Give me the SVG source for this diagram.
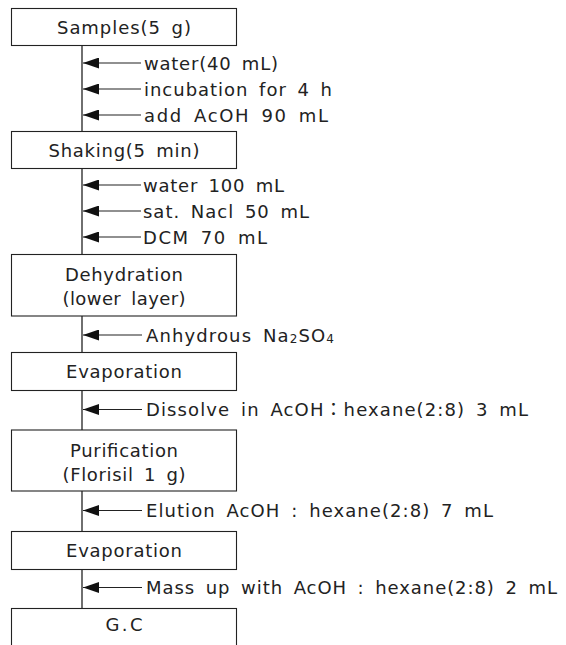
<svg xmlns="http://www.w3.org/2000/svg" width="566" height="645" viewBox="0 0 566 645">
<style>
.box{fill:#fff;stroke:#222;stroke-width:1.1}
.t{font-family:"DejaVu Sans","Liberation Sans","Noto Sans CJK KR",sans-serif;font-size:18px;fill:#222;word-spacing:4px}
.c{text-anchor:middle}
.v{stroke:#222;stroke-width:1.3;fill:none}
.a{stroke:#222;stroke-width:1.2;fill:none;marker-end:url(#ah)}
</style>
<defs>
<marker id="ah" viewBox="0 0 16 11" refX="16" refY="5.5" markerWidth="16" markerHeight="11" orient="auto" markerUnits="userSpaceOnUse">
<path d="M0,0 L16,5.5 L0,11 z" fill="#111"/>
</marker>
</defs>
<rect width="566" height="645" fill="#fff"/>
<g id="connectors">
<line class="v" x1="82" y1="45.5" x2="82" y2="131.5"/>
<line class="v" x1="82" y1="168.5" x2="82" y2="254.5"/>
<line class="v" x1="82" y1="316" x2="82" y2="352.5"/>
<line class="v" x1="82" y1="390.5" x2="82" y2="430"/>
<line class="v" x1="82" y1="491" x2="82" y2="531.5"/>
<line class="v" x1="82" y1="569.5" x2="82" y2="608.5"/>
<line class="a" x1="141" y1="63" x2="83" y2="63"/>
<line class="a" x1="141" y1="89" x2="83" y2="89"/>
<line class="a" x1="141" y1="115" x2="83" y2="115"/>
<line class="a" x1="141" y1="185" x2="83" y2="185"/>
<line class="a" x1="141" y1="211" x2="83" y2="211"/>
<line class="a" x1="141" y1="237" x2="83" y2="237"/>
<line class="a" x1="142" y1="335" x2="83" y2="335"/>
<line class="a" x1="142" y1="409.5" x2="83" y2="409.5"/>
<line class="a" x1="142" y1="510.5" x2="83" y2="510.5"/>
<line class="a" x1="142" y1="587.5" x2="83" y2="587.5"/>
<text class="t" x="144" y="69.5" textLength="134" lengthAdjust="spacing">water(40 mL)</text>
<text class="t" x="144" y="95.5" textLength="188" lengthAdjust="spacing">incubation for 4 h</text>
<text class="t" x="144" y="121.5" textLength="184" lengthAdjust="spacing">add AcOH 90 mL</text>
<text class="t" x="143" y="191.5" textLength="141" lengthAdjust="spacing">water 100 mL</text>
<text class="t" x="143" y="217.5" textLength="166" lengthAdjust="spacing">sat. Nacl 50 mL</text>
<text class="t" x="143" y="243.5" textLength="124" lengthAdjust="spacing">DCM 70 mL</text>
<text class="t" x="146" y="341.5" textLength="188" lengthAdjust="spacing">Anhydrous Na<tspan font-size="12" dy="1">2</tspan><tspan dy="-1">SO</tspan><tspan font-size="12" dy="1">4</tspan></text>
<text class="t" x="146" y="416" textLength="382" lengthAdjust="spacing">Dissolve in AcOH：hexane(2:8) 3 mL</text>
<text class="t" x="146" y="517" textLength="347" lengthAdjust="spacing">Elution AcOH : hexane(2:8) 7 mL</text>
<text class="t" x="146" y="594" textLength="411" lengthAdjust="spacing">Mass up with AcOH : hexane(2:8) 2 mL</text>
</g>
<g id="n1"><rect class="box" x="11.5" y="8.5" width="225" height="37"/><text class="t c" x="124" y="33.5" textLength="134" lengthAdjust="spacing">Samples(5 g)</text></g>
<g id="n2"><rect class="box" x="11.5" y="131.5" width="225" height="37"/><text class="t c" x="124" y="156.5" textLength="151" lengthAdjust="spacing">Shaking(5 min)</text></g>
<g id="n3"><rect class="box" x="11.5" y="254.5" width="225" height="61.5"/><text class="t c" x="124" y="280.5" textLength="118" lengthAdjust="spacing">Dehydration</text><text class="t c" x="124" y="305" textLength="123" lengthAdjust="spacing">(lower layer)</text></g>
<g id="n4"><rect class="box" x="11.5" y="352.5" width="225" height="38"/><text class="t c" x="124" y="378" textLength="116" lengthAdjust="spacing">Evaporation</text></g>
<g id="n5"><rect class="box" x="11.5" y="430" width="225" height="61"/><text class="t c" x="124" y="456.5" textLength="108" lengthAdjust="spacing">Purification</text><text class="t c" x="124" y="481" textLength="123" lengthAdjust="spacing">(Florisil 1 g)</text></g>
<g id="n6"><rect class="box" x="11.5" y="531.5" width="225" height="38"/><text class="t c" x="124" y="557" textLength="116" lengthAdjust="spacing">Evaporation</text></g>
<g id="n7"><rect class="box" x="11.5" y="608.5" width="225" height="45"/><text class="t c" x="124" y="631" textLength="37" lengthAdjust="spacing">G.C</text></g>
</svg>
